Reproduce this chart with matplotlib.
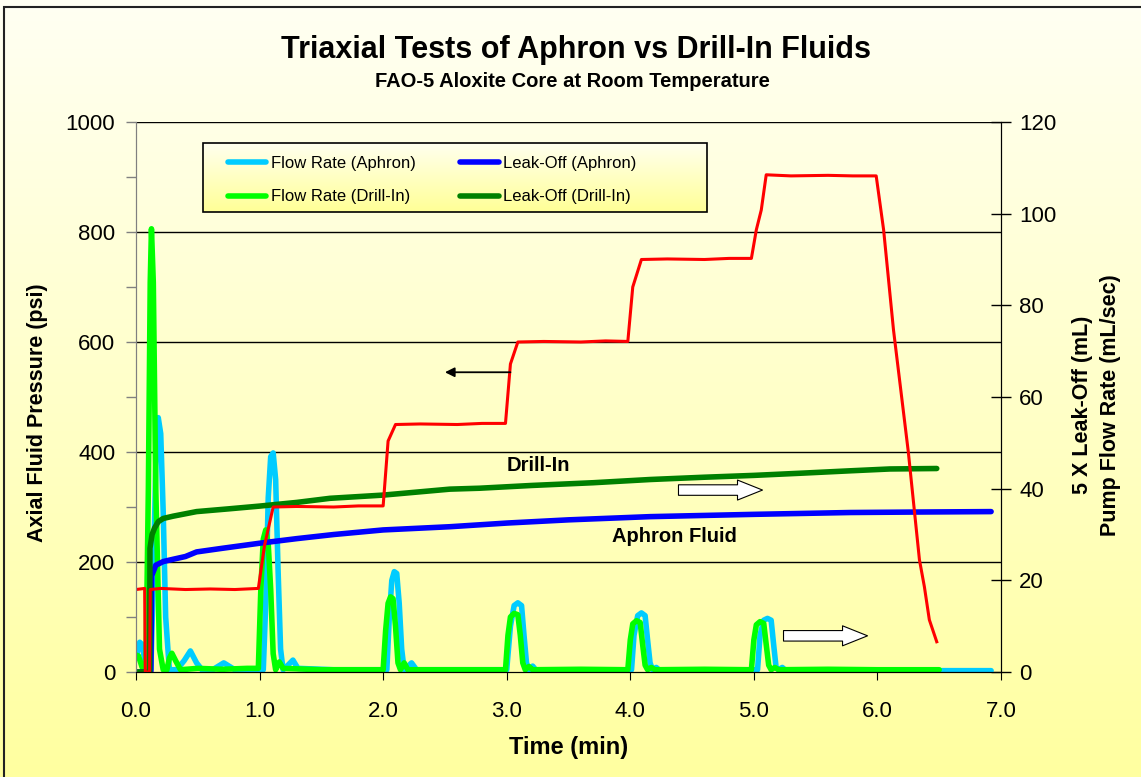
import numpy as np
import matplotlib
matplotlib.use('Agg')
import matplotlib.pyplot as plt

plt.rcParams['font.family'] = ['Liberation Sans', 'DejaVu Sans']

# axial fluid pressure (psi), left axis
t_press = [0, 0.07, 0.075, 0.11, 0.115, 0.2, 0.4, 0.6, 0.8, 0.99, 1.04, 1.11, 1.3, 1.6, 1.8, 2.0,
           2.04, 2.1, 2.3, 2.6, 2.8, 2.99, 3.03, 3.09, 3.3, 3.6, 3.8, 3.98, 4.02, 4.09, 4.3, 4.6,
           4.8, 4.98, 5.02, 5.06, 5.10, 5.3, 5.6, 5.8, 5.99, 6.05, 6.13, 6.25, 6.34, 6.38, 6.42, 6.48]
press = [150, 152, 0, 0, 150, 152, 150, 151, 150, 152, 230, 300, 301, 300, 302, 302,
         420, 450, 451, 450, 452, 452, 560, 600, 601, 600, 602, 601, 700, 750, 751, 750,
         752, 752, 804, 840, 904, 902, 903, 902, 902, 804, 622, 400, 204, 155, 95, 55]

# pump flow rate (mL/sec), right axis
t_flow_a = [0.0, 0.03, 0.05, 0.08, 0.12, 0.14, 0.16, 0.18, 0.20, 0.22, 0.24, 0.27, 0.33, 0.39, 0.44,
            0.49, 0.54, 0.62, 0.71, 0.80, 0.95, 1.03, 1.05, 1.07, 1.09, 1.11, 1.13, 1.15, 1.17, 1.19,
            1.23, 1.27, 1.31, 1.6, 2.03, 2.05, 2.07, 2.09, 2.11, 2.13, 2.15, 2.17, 2.20, 2.23, 2.27,
            2.6, 3.00, 3.03, 3.06, 3.09, 3.12, 3.14, 3.16, 3.18, 3.21, 3.24, 3.6, 4.01, 4.03, 4.06,
            4.09, 4.12, 4.14, 4.16, 4.18, 4.21, 4.24, 4.6, 5.03, 5.05, 5.08, 5.11, 5.14, 5.16, 5.18,
            5.20, 5.23, 5.26, 5.6, 6.0, 6.5, 6.92]
flow_a = [3, 6.5, 6, 1, 0.5, 20, 45, 55.5, 52, 35, 12, 0.5, 0.5, 2.5, 4.6,
          2, 0.3, 0.5, 2.0, 0.5, 0.5, 0.5, 15, 38, 47, 47.8, 42, 22, 5, 0.5,
          1.5, 2.6, 0.8, 0.5, 0.5, 12, 20, 21.9, 21.5, 15, 5, 0.5, 1.2, 2.0, 0.5,
          0.5, 0.5, 10, 14.5, 15.1, 14.5, 8, 2, 0.5, 1.3, 0.3, 0.4, 0.5, 8, 12.3,
          12.9, 12.3, 7, 2, 0.5, 1.0, 0.3, 0.4, 0.5, 8, 11.3, 11.7, 11.3, 6, 1,
          0.5, 1.0, 0.3, 0.4, 0.3, 0.3, 0.3]

t_flow_d = [0, 0.02, 0.05, 0.08, 0.10, 0.115, 0.125, 0.14, 0.16, 0.19, 0.22, 0.25, 0.27, 0.29, 0.32,
            0.36, 0.5, 0.7, 0.9, 0.99, 1.01, 1.03, 1.05, 1.07, 1.09, 1.11, 1.13, 1.16, 1.19, 1.5,
            2.0, 2.02, 2.04, 2.06, 2.08, 2.10, 2.12, 2.14, 2.17, 2.20, 2.5, 2.99, 3.01, 3.03, 3.06,
            3.09, 3.11, 3.13, 3.15, 3.18, 3.21, 3.6, 3.98, 4.00, 4.02, 4.05, 4.08, 4.10, 4.12, 4.14,
            4.17, 4.2, 4.6, 4.98, 5.00, 5.02, 5.05, 5.08, 5.10, 5.12, 5.14, 5.17, 5.2, 5.6, 6.0, 6.5]
flow_d = [3.7, 3.5, 1, 0.3, 40, 85, 96.7, 85, 40, 5, 0.5, 0.5, 3, 4.1, 2.5,
          0.5, 0.8, 0.6, 0.8, 0.8, 18, 29, 31, 28, 18, 4, 0.5, 2.2, 0.8, 0.5,
          0.5, 9, 15, 16.4, 16, 10, 2, 0.5, 2.0, 0.5, 0.5, 0.5, 8, 12, 12.8,
          12.5, 8, 2, 0.5, 1.2, 0.5, 0.6, 0.5, 7, 10.5, 11.2, 10.8, 6, 1.5, 0.5,
          1.0, 0.5, 0.6, 0.5, 7, 10.3, 11.0, 10.6, 6, 1.5, 0.5, 1.0, 0.5, 0.6, 0.5, 0.5]

# 5 x leak-off (mL), right axis
t_leak_a = [0, 0.12, 0.127, 0.16, 0.22, 0.3, 0.4, 0.49, 0.7, 1.0, 1.3, 1.6, 2.0, 2.54, 3.0,
            3.5, 4.16, 5.0, 5.78, 6.3, 6.92]
leak_a = [0, 0, 21, 23.3, 24.1, 24.6, 25.2, 26.2, 27.0, 28.1, 29.1, 30.0, 31.0, 31.7, 32.5,
          33.2, 33.9, 34.4, 34.8, 34.9, 35.0]

t_leak_d = [0, 0.11, 0.113, 0.13, 0.15, 0.18, 0.22, 0.3, 0.49, 0.75, 1.0, 1.3, 1.57, 2.0, 2.54,
            2.78, 3.2, 3.7, 4.16, 4.6, 5.0, 5.4, 5.78, 6.1, 6.48]
leak_d = [0, 0, 27, 30, 31.4, 32.8, 33.5, 34.0, 35.0, 35.6, 36.2, 37.0, 37.9, 38.6, 39.9,
          40.1, 40.7, 41.3, 42.0, 42.5, 42.9, 43.4, 43.9, 44.3, 44.4]

labels = ['Flow Rate (Aphron)', 'Flow Rate (Drill-In)', 'Leak-Off (Aphron)', 'Leak-Off (Drill-In)']

fig = plt.figure(figsize=(11.41, 7.77), dpi=100)


def gradient(c_top, c_bot):
    g = np.linspace(0, 1, 256)[:, None, None]
    return np.repeat(np.array(c_top) / 255 * (1 - g) + np.array(c_bot) / 255 * g, 2, axis=1)


# yellow gradient background
bg = fig.add_axes([0, 0, 1, 1], zorder=-10)
bg.imshow(gradient([255, 255, 243], [255, 255, 160]), aspect='auto', extent=[0, 1, 0, 1])
bg.set_xlim(0, 1)
bg.set_ylim(0, 1)
bg.axis('off')
bg.add_patch(plt.Rectangle((4 / 1141, -0.01), 1.1, 1 - 7 / 777 + 0.01, fill=False,
                           ec='#222222', lw=1.5, transform=bg.transAxes))

ax2 = fig.add_axes([0.1192, 0.1351, 0.7581, 0.7079])
ax = ax2.twinx()
ax.yaxis.tick_left()
ax.yaxis.set_label_position('left')
ax2.yaxis.tick_right()
ax2.yaxis.set_label_position('right')
ax.set_zorder(ax2.get_zorder() + 1)
ax.patch.set_visible(False)
ax2.patch.set_visible(False)

# grid lines at the left-axis major ticks, drawn behind the data
psi_ticks = np.arange(0, 1001, 200)
for p in psi_ticks[1:]:
    ax2.axhline(p * 120 / 1000, color='black', lw=1, zorder=0)

kw = dict(lw=4, solid_joinstyle='round', solid_capstyle='round')
l1, = ax2.plot(t_flow_a, flow_a, color='#00CCFF', **kw)
l3, = ax2.plot(t_flow_d, flow_d, color='#00FF00', **kw)
l2, = ax2.plot(t_leak_a, leak_a, color='#0000FF', **kw)
l4, = ax2.plot(t_leak_d, leak_d, color='#008000', **kw)
ax.plot(t_press, press, color='#FF0000', lw=2.2)

# legend box with its own gradient fill
leg_box = (0.0775, 0.6605, 0.836, 0.9615)
ax.imshow(gradient([255, 255, 240], [255, 255, 150]), aspect='auto', extent=leg_box,
          transform=ax.transAxes, zorder=4)
ax.add_patch(plt.Rectangle((leg_box[0], leg_box[2]), leg_box[1] - leg_box[0], leg_box[3] - leg_box[2],
                           transform=ax.transAxes, fill=False, ec='black', lw=1.2, zorder=4.5))
leg = ax.legend([l1, l3, l2, l4], labels, ncol=2, loc='upper left',
                bbox_to_anchor=(0.1064, 0.938), frameon=False, fontsize=12,
                handlelength=2.3, handletextpad=0.25, labelspacing=1.1, columnspacing=2.7,
                borderpad=0, borderaxespad=0)
leg.set_zorder(5)

ax.set_xlim(0, 7)
ax.set_ylim(0, 1000)
ax2.set_xlim(0, 7)
ax2.set_ylim(0, 120)

# ticks and spines
ax.set_yticks(psi_ticks)
ax.set_yticks(np.arange(0, 1001, 100), minor=True)
ax.tick_params(axis='y', which='both', direction='out', length=7, width=1, color='#808080',
               labelsize=16, pad=8)
ax2.set_yticks(np.arange(0, 121, 20))
ax2.tick_params(axis='y', direction='inout', length=14, width=1, labelsize=16, pad=6)
ax2.set_xticks(np.arange(0, 7.01, 1))
ax2.set_xticklabels([f'{v:.1f}' for v in np.arange(0, 7.01, 1)])
ax2.tick_params(axis='x', direction='out', length=6, labelsize=16, pad=15)
ax.tick_params(axis='x', which='both', bottom=False, labelbottom=False)
for a in (ax, ax2):
    a.spines['top'].set_visible(False)
    a.spines['left'].set_color('#808080')
    a.spines['right'].set_color('black')
    a.spines['bottom'].set_color('black')

ax.set_ylabel('Axial Fluid Pressure (psi)', fontsize=15.5, fontweight='bold')
ax.yaxis.set_label_coords(-0.1017, 0.471)
ax2.set_xlabel('Time (min)', fontsize=17, fontweight='bold', labelpad=10)
ax2.set_ylabel('5 X Leak-Off (mL)\nPump Flow Rate (mL/sec)', fontsize=15.5, fontweight='bold',
               linespacing=1.45)
ax2.yaxis.set_label_coords(1.082, 0.485)

fig.text(0.505, 0.936, 'Triaxial Tests of Aphron vs Drill-In Fluids', ha='center', va='center',
         fontsize=22, fontweight='bold')
fig.text(0.502, 0.895, 'FAO-5 Aloxite Core at Room Temperature', ha='center', va='center',
         fontsize=14.5, fontweight='bold')

ax.text(3.26, 376, 'Drill-In', ha='center', va='center', fontsize=14.5, fontweight='bold')
ax.text(4.36, 247, 'Aphron Fluid', ha='center', va='center', fontsize=14.5, fontweight='bold')

ax.annotate('', xy=(2.5, 545), xytext=(3.03, 545),
            arrowprops=dict(arrowstyle='-|>', color='black', lw=1.3, mutation_scale=14,
                            shrinkA=0, shrinkB=0))
block = dict(arrowstyle='simple,head_length=1.0,head_width=0.8,tail_width=0.42', fc='white',
             ec='black', lw=0.8, mutation_scale=18, shrinkA=0, shrinkB=0)
ax.annotate('', xy=(5.07, 39.7 * 1000 / 120), xytext=(4.39, 39.7 * 1000 / 120), arrowprops=block)
ax.annotate('', xy=(5.92, 7.9 * 1000 / 120), xytext=(5.24, 7.9 * 1000 / 120), arrowprops=block)

fig.savefig('out.png', dpi=100)
